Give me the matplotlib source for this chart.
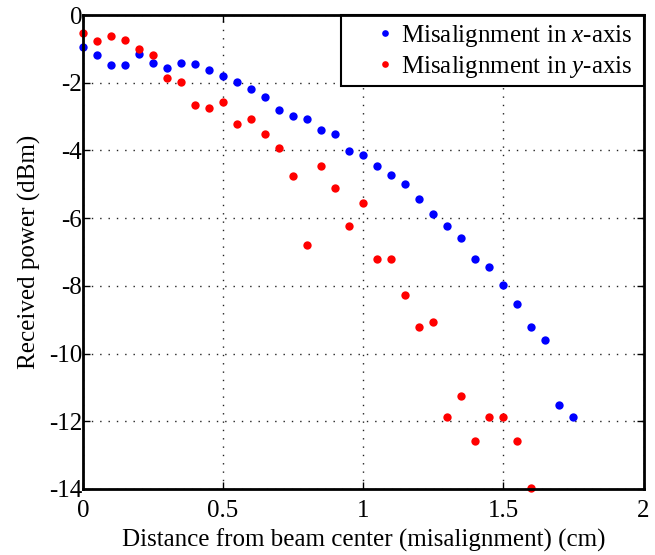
import numpy as np
import matplotlib
matplotlib.use("Agg")
import matplotlib.pyplot as plt
from matplotlib.patches import Rectangle

x_blue = [0, 0.05, 0.1, 0.15, 0.2, 0.25, 0.3, 0.35, 0.4, 0.45, 0.5, 0.55, 0.6, 0.65,
          0.7, 0.75, 0.8, 0.85, 0.9, 0.95, 1.0, 1.05, 1.1, 1.15, 1.2, 1.25, 1.3, 1.35,
          1.4, 1.45, 1.5, 1.55, 1.6, 1.65, 1.7, 1.75]
y_blue = [-0.94, -1.18, -1.47, -1.47, -1.14, -1.43, -1.56, -1.42, -1.46, -1.61, -1.80,
          -1.99, -2.18, -2.42, -2.80, -2.99, -3.08, -3.41, -3.51, -4.03, -4.13, -4.46,
          -4.74, -4.98, -5.42, -5.89, -6.22, -6.59, -7.21, -7.45, -7.98, -8.54, -9.21,
          -9.59, -11.53, -11.88]

x_red = [0, 0.05, 0.1, 0.15, 0.2, 0.25, 0.3, 0.35, 0.4, 0.45, 0.5, 0.55, 0.6, 0.65,
         0.7, 0.75, 0.8, 0.85, 0.9, 0.95, 1.0, 1.05, 1.1, 1.15, 1.2, 1.25, 1.3, 1.35,
         1.4, 1.45, 1.5, 1.55, 1.6]
y_red = [-0.52, -0.76, -0.61, -0.75, -0.99, -1.18, -1.85, -1.99, -2.66, -2.76, -2.56,
         -3.23, -3.08, -3.51, -3.94, -4.75, -6.78, -4.46, -5.12, -6.22, -5.55, -7.21,
         -7.21, -8.26, -9.21, -9.06, -11.88, -11.25, -12.58, -11.88, -11.88, -12.58,
         -13.96]

xticks = [0, 0.5, 1, 1.5, 2]
xticklabels = ["0", "0.5", "1", "1.5", "2"]
yticks = [0, -2, -4, -6, -8, -10, -12, -14]
yticklabels = ["0", "-2", "-4", "-6", "-8", "-10", "-12", "-14"]

plt.rcParams['font.family'] = ['Liberation Serif', 'DejaVu Serif']
plt.rcParams['mathtext.fontset'] = 'custom'
plt.rcParams['mathtext.it'] = 'Liberation Serif:italic'
plt.rcParams['mathtext.rm'] = 'Liberation Serif'

W, H = 655, 555
FS = 18
fig = plt.figure(figsize=(W / 100, H / 100), dpi=100)
ax = fig.add_axes([83 / W, 1 - 489 / H, (643.5 - 83) / W, (489 - 15) / H])

ax.plot(x_blue, y_blue, 'o', color='#0000ff', markersize=6.0, markeredgewidth=0,
        label='Misalignment in $x$-axis', clip_on=False, zorder=3)
ax.plot(x_red, y_red, 'o', color='#ff0000', markersize=6.0, markeredgewidth=0,
        label='Misalignment in $y$-axis', clip_on=False, zorder=3)

ax.set_xlim(0, 2)
ax.set_ylim(-14, 0)
ax.set_xticks(xticks)
ax.set_xticklabels(xticklabels)
ax.set_yticks(yticks)
ax.set_yticklabels(yticklabels)
ax.grid(True, color='#222222', linestyle=(0, (1, 5)), linewidth=1.0)
ax.tick_params(direction='in', length=5, width=1, top=True, right=True,
               labelsize=FS)
ax.tick_params(axis='x', pad=8)
ax.tick_params(axis='y', pad=0.5)
for s in ax.spines.values():
    s.set_linewidth(2)
    s.set_zorder(6)

ax.set_xlabel('Distance from beam center (misalignment) (cm)', fontsize=FS, labelpad=5)
ax.set_ylabel('Received power (dBm)', fontsize=FS, labelpad=6)

# legend frame (white box with black edge) at upper right
fx0, fx1, fy0, fy1 = 341, 643.5, 15, 86
rect = Rectangle((fx0 / W, 1 - fy1 / H), (fx1 - fx0) / W, (fy1 - fy0) / H,
                 transform=fig.transFigure, facecolor='white', edgecolor='black',
                 linewidth=1.5, zorder=5)
ax.add_patch(rect)
rect.set_clip_on(False)

leg = ax.legend(loc='upper right', bbox_to_anchor=(633 / W, 1 - 23 / H),
                bbox_transform=fig.transFigure, fontsize=FS, frameon=False,
                handlelength=0.5, handletextpad=0.4, borderpad=0.0,
                labelspacing=0.2, borderaxespad=0.0, markerscale=0.8)
leg.set_zorder(7)

fig.savefig('out.png', dpi=100)
